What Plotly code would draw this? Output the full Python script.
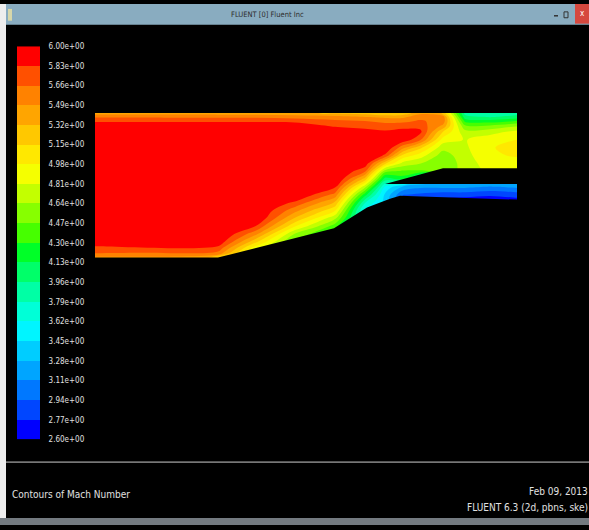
import plotly.graph_objects as go

# ---------------- data ----------------
# contour levels shown in the colour legend (Mach number)
levels = [2.60, 2.77, 2.94, 3.11, 3.28, 3.45, 3.62, 3.79, 3.96, 4.13, 4.30,
          4.47, 4.64, 4.81, 4.98, 5.15, 5.32, 5.49, 5.66, 5.83, 6.00]
level_labels = ["%.2fe+00" % v for v in levels]

# sample grid of the flow domain (mm, x along the duct, y up from the inlet floor)
grid_x = [0, 123, 160, 200, 240, 270, 290, 308, 325, 348, 370, 395, 422]
grid_y = [0, 5, 10, 16, 24, 32, 40, 48, 56, 64, 72, 80, 88, 96, 104, 112,
          120, 128, 134, 139, 143, 147]

# Mach number profiles, one per grid_x station (bottom -> top)
mach_x000 = [5.45, 5.68, 5.78, 5.97, 6.05, 6.05, 6.05, 6.05, 6.05, 6.05, 6.05,
             6.05, 6.05, 6.05, 6.05, 6.05, 6.05, 6.05, 6.00, 5.78, 5.64, 5.40]
mach_x123 = [5.30, 5.62, 5.78, 5.96, 6.05, 6.05, 6.05, 6.05, 6.05, 6.05, 6.05,
             6.05, 6.05, 6.05, 6.05, 6.05, 6.05, 6.05, 6.00, 5.78, 5.63, 5.40]
mach_x160 = [4.50, 4.70, 4.90, 5.20, 5.55, 5.84, 6.03, 6.05, 6.05, 6.05, 6.05,
             6.05, 6.05, 6.05, 6.05, 6.05, 6.05, 6.05, 6.00, 5.78, 5.63, 5.38]
mach_x200 = [4.10, 4.20, 4.30, 4.40, 4.62, 5.00, 5.30, 5.55, 5.80, 6.02, 6.05,
             6.05, 6.05, 6.05, 6.05, 6.05, 6.05, 6.05, 5.97, 5.77, 5.60, 5.35]
mach_x240 = [4.00, 4.00, 4.05, 4.10, 4.20, 4.38, 4.68, 5.00, 5.30, 5.60, 5.86,
             6.05, 6.05, 6.05, 6.05, 6.05, 6.05, 6.00, 5.80, 5.70, 5.55, 5.30]
mach_x270 = [3.50, 3.50, 3.50, 3.50, 3.50, 3.50, 3.55, 3.55, 3.80, 4.20, 4.70,
             5.25, 5.70, 5.95, 6.05, 6.05, 6.05, 5.90, 5.76, 5.66, 5.50, 5.25]
mach_x290 = [3.40, 3.40, 3.40, 3.40, 3.40, 3.40, 3.40, 3.40, 3.40, 3.42, 3.60,
             4.05, 4.55, 5.20, 5.80, 6.02, 6.05, 5.86, 5.72, 5.62, 5.45, 5.15]
mach_x308 = [2.80, 2.80, 2.80, 2.80, 2.80, 2.80, 2.80, 2.80, 2.80, 2.95, 3.25,
             4.20, 4.45, 4.75, 5.10, 5.55, 5.95, 5.92, 5.74, 5.62, 5.45, 5.20]
mach_x325 = [2.70, 2.70, 2.70, 2.70, 2.70, 2.70, 2.70, 2.70, 2.70, 2.90, 3.15,
             3.60, 4.45, 4.65, 4.90, 5.20, 5.70, 5.88, 5.76, 5.68, 5.60, 5.45]
mach_x348 = [2.65, 2.65, 2.65, 2.65, 2.65, 2.65, 2.65, 2.65, 2.65, 2.85, 3.15,
             3.40, 4.50, 4.50, 4.55, 4.70, 4.90, 5.15, 5.45, 5.60, 5.58, 5.30]
mach_x370 = [2.60, 2.60, 2.60, 2.60, 2.60, 2.60, 2.60, 2.60, 2.60, 2.85, 3.15,
             3.30, 4.70, 4.72, 4.75, 4.78, 4.80, 4.70, 4.50, 4.25, 4.02, 3.90]
mach_x395 = [2.60, 2.60, 2.60, 2.60, 2.60, 2.60, 2.60, 2.60, 2.60, 2.80, 3.10,
             3.30, 4.85, 4.90, 4.95, 4.97, 4.90, 4.75, 4.50, 4.20, 3.95, 3.82]
mach_x422 = [2.65, 2.65, 2.65, 2.65, 2.65, 2.65, 2.65, 2.65, 2.65, 2.85, 3.15,
             3.30, 4.85, 4.90, 5.00, 5.02, 4.98, 4.85, 4.62, 4.30, 4.02, 3.88]

# geometry: duct extent and solid walls (outside the fluid domain)
domain_x = [0, 422]
domain_y = [0, 147]
ramp_x = [0, 123, 239, 272, 295, 305, 422]
ramp_y = [0, 0, 30, 51, 60, 63, 59]
splitter_x = [290, 348, 422, 422, 290]
splitter_y = [75, 91, 91, 75, 75]

# ---------------- styles ----------------
band_colors = ["rgb(0,0,255)", "rgb(0,70,255)", "rgb(0,120,255)", "rgb(0,165,255)",
               "rgb(0,205,255)", "rgb(0,245,255)", "rgb(0,255,215)", "rgb(0,255,165)",
               "rgb(0,255,105)", "rgb(0,255,40)", "rgb(70,255,0)", "rgb(135,255,0)",
               "rgb(195,255,0)", "rgb(245,255,0)", "rgb(255,232,0)", "rgb(255,200,0)",
               "rgb(255,165,0)", "rgb(255,130,0)", "rgb(255,80,0)", "rgb(255,0,0)"]
W, H = 589, 530
X0, Y0 = 95, 258          # pixel position of the duct's lower-left corner
FONT = "DejaVu Sans Condensed, Liberation Sans Narrow, Liberation Sans, sans-serif"
TXT = "rgb(225,225,225)"
PAD = 3                   # render padding beyond the duct, hidden by the wall masks
M = 12                    # mask overhang

# stepped colourscale for contour fills (below-start, 20 bands, above-end)
ext = [band_colors[0]] + band_colors + [band_colors[-1]]
n = len(ext) - 1
cont_scale = []
for j, c in enumerate(ext):
    cont_scale.append([max(0.0, (j - 0.5) / n), c])
    cont_scale.append([min(1.0, (j + 0.5) / n), c])

# stepped colourscale for the legend bar
nb = len(band_colors)
bar_scale = []
for k, c in enumerate(band_colors):
    bar_scale.append([k / nb, c])
    bar_scale.append([(k + 1) / nb, c])

profiles = [mach_x000, mach_x123, mach_x160, mach_x200, mach_x240, mach_x270,
            mach_x290, mach_x308, mach_x325, mach_x348, mach_x370, mach_x395, mach_x422]
z = [[p[i] for p in profiles] for i in range(len(grid_y))]
# replicate edge samples a few units outward so the fill edges sit under the masks
z = [[r[0]] + r + [r[-1]] for r in z]
z = [z[0]] + z + [z[-1]]
xs = [grid_x[0] - PAD] + grid_x + [grid_x[-1] + PAD]
ys = [grid_y[0] - PAD] + grid_y + [grid_y[-1] + PAD]

fig = go.Figure()
fig.add_trace(go.Contour(
    x=xs, y=ys, z=z,
    contours=dict(start=levels[0], end=levels[-1], size=0.17, coloring="fill", showlines=False),
    line=dict(width=0), colorscale=cont_scale, showscale=False, hoverinfo="skip"))

xa, xb = domain_x
ya, yb = domain_y
masks = [
    ([xa - M, xa, xa, xa - M], [ya - M, ya - M, yb + M, yb + M]),            # left
    ([xa - M, xb + M, xb + M, xa - M], [yb, yb, yb + M, yb + M]),            # top
    ([xb, xb + M, xb + M, xb], [ya - M, ya - M, yb + M, yb + M]),            # right
    ([xa - M] + ramp_x + [xb + M, xb + M, xa - M],
     [ya] + ramp_y + [ramp_y[-1], ya - M, ya - M]),                          # floor / ramp
    (splitter_x, splitter_y),                                                # splitter
]
for mx, my in masks:
    fig.add_trace(go.Scatter(x=mx, y=my, mode="lines", fill="toself", fillcolor="black",
                             line=dict(width=0), hoverinfo="skip", showlegend=False))

# legend bar
centers = [(levels[k] + levels[k + 1]) / 2 for k in range(nb)]
fig.add_trace(go.Heatmap(x=[0], y=centers, z=[[k] for k in range(nb)], zmin=-0.5,
                         zmax=nb - 0.5, colorscale=bar_scale, showscale=False,
                         xaxis="x2", yaxis="y2", hoverinfo="skip"))


def px(x):
    return x / W


def py(y):
    return 1 - y / H


fig.update_layout(
    width=W, height=H, margin=dict(l=0, r=0, t=0, b=0),
    paper_bgcolor="black", plot_bgcolor="black", showlegend=False,
    xaxis=dict(domain=[0, 1], range=[-X0, W - X0], visible=False, fixedrange=True),
    yaxis=dict(domain=[0, 1], range=[Y0 - H, Y0], visible=False, fixedrange=True),
    xaxis2=dict(domain=[px(17), px(40)], range=[-0.5, 0.5], visible=False, anchor="y2",
                fixedrange=True),
    yaxis2=dict(domain=[py(443), py(43)], range=[levels[0], levels[-1]], anchor="x2",
                side="right", tickvals=levels, ticktext=level_labels, showgrid=False,
                zeroline=False, showline=False, ticks="outside", ticklen=6,
                tickcolor="rgba(0,0,0,0)", fixedrange=True,
                tickfont=dict(family=FONT, size=8, color=TXT)),
)

shapes = [
    dict(type="rect", xref="paper", yref="paper", x0=px(0), x1=px(6), y0=py(530), y1=py(0),
         fillcolor="rgb(238,238,238)", line=dict(width=0), layer="above"),
    dict(type="rect", xref="paper", yref="paper", x0=px(6), x1=px(589), y0=py(21), y1=py(0),
         fillcolor="rgb(137,172,192)", line=dict(width=0), layer="above"),
    dict(type="rect", xref="paper", yref="paper", x0=px(575), x1=px(589), y0=py(20), y1=py(0),
         fillcolor="rgb(214,72,62)", line=dict(width=0), layer="above"),
    dict(type="rect", xref="paper", yref="paper", x0=px(8), x1=px(12), y0=py(17), y1=py(5),
         fillcolor="rgb(215,215,170)", line=dict(width=0), layer="above"),
    dict(type="rect", xref="paper", yref="paper", x0=px(564), x1=px(568), y0=py(14), y1=py(8),
         fillcolor="rgba(0,0,0,0)", line=dict(width=1, color="rgb(50,50,50)"), layer="above"),
    dict(type="line", xref="paper", yref="paper", x0=px(554), x1=px(558), y0=py(12), y1=py(12),
         line=dict(width=1.5, color="rgb(50,50,50)"), layer="above"),
    dict(type="line", xref="paper", yref="paper", x0=px(6), x1=px(589), y0=py(466), y1=py(466),
         line=dict(width=1, color="rgb(205,205,205)"), layer="above"),
    dict(type="rect", xref="paper", yref="paper", x0=px(0), x1=px(589), y0=py(530), y1=py(523),
         fillcolor="rgb(115,122,128)", line=dict(width=0), layer="above"),
]
fig.update_layout(shapes=shapes)

ann = [
    dict(text="FLUENT [0] Fluent Inc", x=px(267), y=py(11), xanchor="center", yanchor="middle",
         font=dict(family=FONT, size=7.5, color="rgb(45,45,45)")),
    dict(text="x", x=px(582), y=py(10), xanchor="center", yanchor="middle",
         font=dict(family=FONT, size=8, color="white")),
    dict(text="Contours of Mach Number", x=px(10), y=py(499), xanchor="left", yanchor="middle",
         font=dict(family=FONT, size=10, color=TXT)),
    dict(text="Feb 09, 2013", x=px(590), y=py(496), xanchor="right", yanchor="middle",
         font=dict(family=FONT, size=10, color=TXT)),
    dict(text="FLUENT 6.3 (2d, pbns, ske)", x=px(590), y=py(512), xanchor="right",
         yanchor="middle", font=dict(family=FONT, size=10, color=TXT)),
]
for a in ann:
    a.update(xref="paper", yref="paper", showarrow=False)
fig.update_layout(annotations=ann)

fig.write_html("out.html", config={"displayModeBar": False, "staticPlot": True},
               post_script="document.body.style.margin='0px';"
                           "document.body.style.overflow='hidden';")
